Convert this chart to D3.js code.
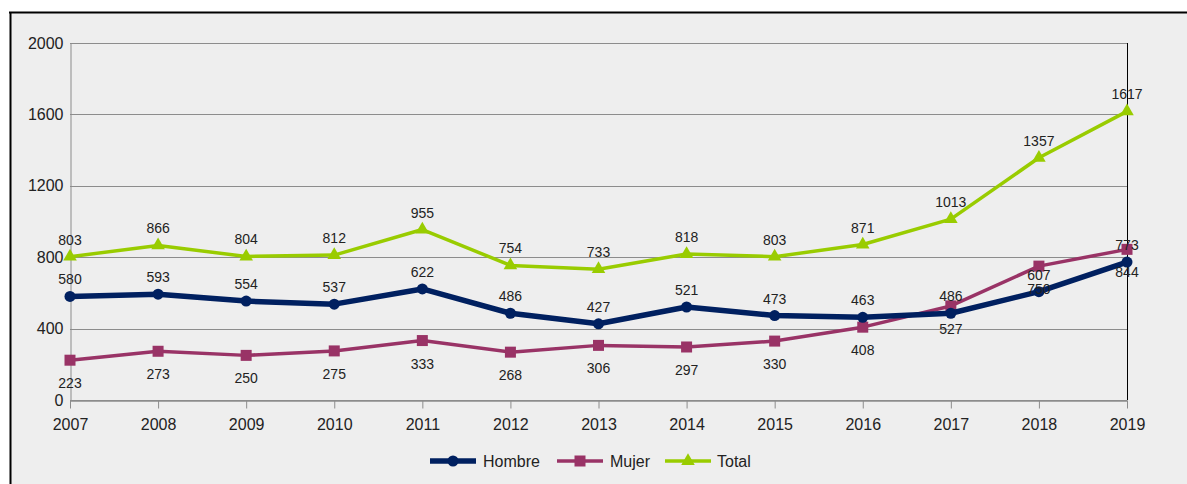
<!DOCTYPE html>
<html>
<head>
<meta charset="utf-8">
<script src="https://cdn.jsdelivr.net/npm/d3@7"></script>
<style>
  body { margin: 0; background: #fff; }
  text { font-family: "Liberation Sans", Arial, sans-serif; fill: #222; }
</style>
</head>
<body>
<div id="chart"></div>
<script>
const years = ["2007","2008","2009","2010","2011","2012","2013","2014","2015","2016","2017","2018","2019"];
const hombre = [580, 593, 554, 537, 622, 486, 427, 521, 473, 463, 486, 607, 773];
const mujer = [223, 273, 250, 275, 333, 268, 306, 297, 330, 408, 527, 750, 844];
const total = [803, 866, 804, 812, 955, 754, 733, 818, 803, 871, 1013, 1357, 1617];
const yTicks = [0, 400, 800, 1200, 1600, 2000];

const width = 1187, height = 484;

const svg = d3.select("#chart").append("svg")
  .attr("width", width)
  .attr("height", height);

// panel background and frame
svg.append("rect").attr("x", 10).attr("y", 12).attr("width", width - 10).attr("height", height - 12)
  .attr("fill", "#eeeeee");
svg.append("line").attr("x1", 9).attr("x2", width).attr("y1", 12.5).attr("y2", 12.5)
  .attr("stroke", "#000").attr("stroke-width", 2);
svg.append("line").attr("x1", 10.5).attr("x2", 10.5).attr("y1", 12).attr("y2", height)
  .attr("stroke", "#000").attr("stroke-width", 2);

const x = d3.scalePoint().domain(years).range([70, 1127]);
const y = d3.scaleLinear().domain([0, 2000]).range([400, 43]);

// gridlines
svg.append("g")
  .selectAll("line")
  .data(yTicks)
  .join("line")
  .attr("x1", 70).attr("x2", 1127)
  .attr("y1", d => Math.round(y(d)) + 0.5).attr("y2", d => Math.round(y(d)) + 0.5)
  .attr("stroke", "#8c8c8c").attr("stroke-width", 1);

// left axis
const yAxis = svg.append("g")
  .attr("transform", "translate(70.5,0)")
  .call(d3.axisLeft(y).tickValues(yTicks).tickFormat(d3.format("d")).tickSize(0).tickPadding(7));
yAxis.select(".domain").attr("stroke", "#8c8c8c");
yAxis.selectAll("text").style("font-size", "16px");

// right border of plot
svg.append("line").attr("x1", 1127.5).attr("x2", 1127.5).attr("y1", y(2000)).attr("y2", y(0))
  .attr("stroke", "#000").attr("stroke-width", 1);

// bottom axis
const xAxis = svg.append("g")
  .attr("transform", `translate(0,${Math.round(y(0)) + 0.5})`)
  .call(d3.axisBottom(x).tickSize(8).tickPadding(10).tickSizeOuter(0));
xAxis.select(".domain").attr("stroke", "#8c8c8c").attr("stroke-width", 1.5);
xAxis.selectAll(".tick line").attr("stroke", "#8c8c8c");
xAxis.selectAll("text").style("font-size", "16px");

const series = [
  { name: "Hombre", values: hombre, color: "#002060", width: 5.5, marker: "circle", labelPos: "above" },
  { name: "Mujer", values: mujer, color: "#993366", width: 3.5, marker: "square", labelPos: "below" },
  { name: "Total", values: total, color: "#99cc00", width: 3.5, marker: "triangle", labelPos: "above" }
];

const line = d3.line()
  .x((d, i) => x(years[i]))
  .y(d => y(d));

function drawMarker(g, type, color) {
  if (type === "circle") {
    g.append("circle").attr("r", 5.5).attr("fill", color);
  } else if (type === "square") {
    g.append("rect").attr("x", -5.5).attr("y", -5.5).attr("width", 11).attr("height", 11).attr("fill", color);
  } else {
    g.append("path").attr("d", d3.symbol().type(d3.symbolTriangle).size(80)()).attr("fill", color);
  }
}

// draw Total first, then Mujer, then Hombre on top
[series[2], series[1], series[0]].forEach(s => {
  svg.append("path")
    .datum(s.values)
    .attr("d", line)
    .attr("fill", "none")
    .attr("stroke", s.color)
    .attr("stroke-width", s.width)
    .attr("stroke-linejoin", "round");

  s.values.forEach((v, i) => {
    const g = svg.append("g").attr("transform", `translate(${x(years[i])},${y(v)})`);
    drawMarker(g, s.marker, s.color);
  });
});

series.forEach(s => {
  svg.append("g")
    .selectAll("text")
    .data(s.values)
    .join("text")
    .attr("x", (d, i) => x(years[i]))
    .attr("y", d => s.labelPos === "above" ? y(d) - 12 : y(d) + 28)
    .attr("text-anchor", "middle")
    .style("font-size", "14px")
    .text(d => d);
});

// legend
const legend = svg.append("g").attr("transform", "translate(0,461)");
const legendItems = [
  { s: series[0], x0: 430, tx: 483 },
  { s: series[1], x0: 557, tx: 610 },
  { s: series[2], x0: 665, tx: 717 }
];
legendItems.forEach(item => {
  legend.append("line")
    .attr("x1", item.x0).attr("x2", item.x0 + 46)
    .attr("y1", 0).attr("y2", 0)
    .attr("stroke", item.s.color).attr("stroke-width", item.s.width);
  const g = legend.append("g").attr("transform", `translate(${item.x0 + 23},0)`);
  drawMarker(g, item.s.marker, item.s.color);
  legend.append("text")
    .attr("x", item.tx).attr("y", 6)
    .style("font-size", "16px")
    .text(item.s.name);
});
</script>
</body>
</html>
